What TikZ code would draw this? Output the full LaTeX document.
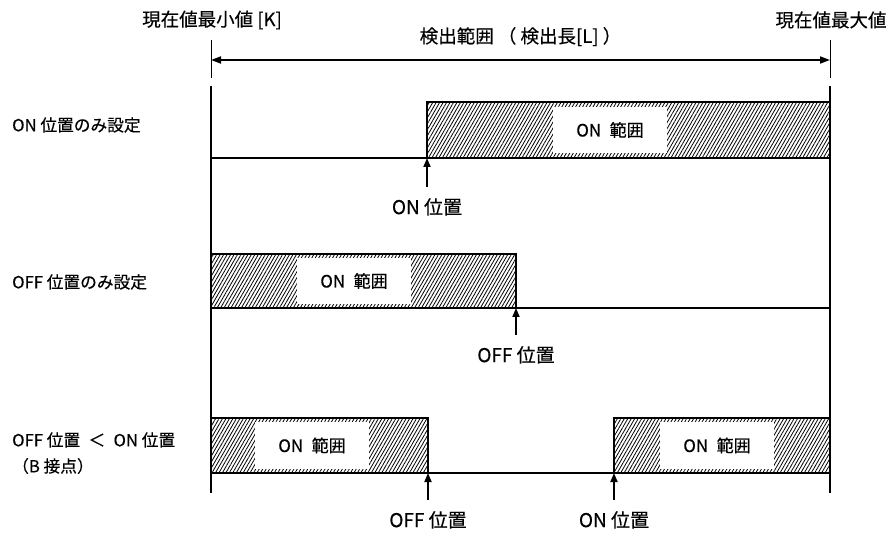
\documentclass[tikz,border=0pt]{standalone}
\usepackage{fontspec}
\newfontfamily\jpfont[FakeBold=0.35]{Noto Sans CJK JP}
\usetikzlibrary{positioning, arrows.meta, patterns.meta}
\tikzset{
    axisline/.style={line width=1.8pt},
    tickline/.style={line width=0.9pt},
    spanarrow/.style={
        {Triangle[length=10pt, width=7pt]}-{Triangle[length=10pt, width=7pt]},
        line width=1.8pt,
    },
    posarrow/.style={
        -{Triangle[length=9pt, width=7pt]}, line width=1.8pt,
    },
    onzone/.style={
        draw, line width=2.4pt,
        pattern={Lines[angle=60, distance=3pt, line width=0.8pt]},
    },
    zonelabel/.style={
        fill=white, inner sep=0pt,
        minimum width=114pt, minimum height=46pt,
        font=\jpfont\fontsize{17}{20}\selectfont,
    },
    rowlabel/.style={
        anchor=west, inner sep=0pt,
        font=\jpfont\fontsize{16.7}{20}\selectfont,
    },
    poslabel/.style={
        inner sep=0pt, font=\jpfont\fontsize{19}{22}\selectfont,
    },
    toplabel/.style={
        inner sep=0pt, font=\jpfont\fontsize{18.5}{22}\selectfont,
    },
}

\begin{document}
\begin{tikzpicture}[x=1pt, y=-1pt]
\useasboundingbox (0,0) rectangle (889,534);

% ── Detection range ──────────────────────────────────────────
\coordinate (kmin) at (211,60);
\coordinate (kmax) at (830,60);
\node[toplabel] (minlbl) at (212,20) {現在値最小値 [K]};
\node[toplabel] (maxlbl) at (831,20) {現在値最大値};
\draw[tickline] ([yshift=20pt]kmin) -- ([yshift=-18pt]kmin);
\draw[tickline] ([yshift=20pt]kmax) -- ([yshift=-18pt]kmax);
\draw[spanarrow] (kmin) -- node[toplabel, above=13pt] (spanlbl) {検出範囲 （ 検出長[L] ）} (kmax);

% ── Row 1: ON position only ──────────────────────────────────
\node[rowlabel] (row1) at (12,125) {ON 位置のみ設定};
\coordinate (base1l) at (211,158);
\coordinate (base1r) at (830,158);
\coordinate (on1) at (427,158);
\draw[axisline] (base1l) -- (base1r);
\draw[onzone] (on1) rectangle (830,102);
\node[zonelabel] (zone1) at (610,130) {ON\enspace 範囲};
\draw[posarrow] ([yshift=-29pt]on1) coordinate (on1tail) -- (on1);
\node[poslabel, below=11pt of on1tail] (on1lbl) {ON 位置};

% ── Row 2: OFF position only ─────────────────────────────────
\node[rowlabel] (row2) at (12,282) {OFF 位置のみ設定};
\coordinate (base2l) at (211,308);
\coordinate (base2r) at (830,308);
\coordinate (off2) at (516,308);
\draw[axisline] (base2l) -- (base2r);
\draw[onzone] (base2l) rectangle (516,254);
\node[zonelabel] (zone2) at (354,281) {ON\enspace 範囲};
\draw[posarrow] ([yshift=-27pt]off2) coordinate (off2tail) -- (off2);
\node[poslabel, below=11pt of off2tail] (off2lbl) {OFF 位置};

% ── Row 3: OFF < ON (B contact) ──────────────────────────────
\node[rowlabel] (row3) at (12,440) {OFF 位置\enspace＜\enspace ON 位置};
\node[rowlabel] (row3b) at (12,466) {（B 接点）};
\coordinate (base3l) at (211,473);
\coordinate (base3r) at (830,473);
\coordinate (off3) at (428,473);
\coordinate (on3) at (614,473);
\draw[axisline] (base3l) -- (base3r);
\draw[onzone] (base3l) rectangle (428,418);
\draw[onzone] (on3) rectangle (830,418);
\node[zonelabel] (zone3a) at (312,445.5) {ON\enspace 範囲};
\node[zonelabel] (zone3b) at (717,445.5) {ON\enspace 範囲};
\draw[posarrow] ([yshift=-27pt]off3) coordinate (off3tail) -- (off3);
\node[poslabel, below=11pt of off3tail] (off3lbl) {OFF 位置};
\draw[posarrow] ([yshift=-27pt]on3) coordinate (on3tail) -- (on3);
\node[poslabel, below=11pt of on3tail] (on3lbl) {ON 位置};

% ── Range limits ─────────────────────────────────────────────
\coordinate (lefttop) at (211,86);
\coordinate (leftbot) at (211,493);
\coordinate (righttop) at (830,86);
\coordinate (rightbot) at (830,493);
\draw[axisline] (lefttop) -- (leftbot);
\draw[axisline] (righttop) -- (rightbot);

\end{tikzpicture}
\end{document}
